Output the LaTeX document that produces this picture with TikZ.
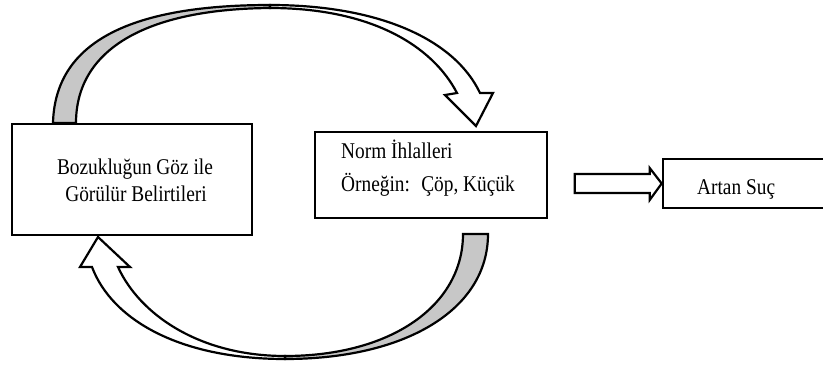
\documentclass[tikz,border=0pt]{standalone}
\usepackage{fontspec}
\setmainfont{Liberation Serif}[FakeStretch=0.86]
\usetikzlibrary{calc}
\begin{document}
\begin{tikzpicture}[x=1pt,y=-1pt,
  box/.style={draw,line width=2.6pt,fill=white,inner sep=0pt},
  band/.style={draw,line width=2.2pt,line join=miter},
  backside/.style={band,fill=black!22},
  frontside/.style={band,fill=white},
  lbl/.style={font=\fontsize{22.5}{27}\selectfont,inner sep=0pt}]
\useasboundingbox (0,0) rectangle (823,370);
% curved arrow: top (from box 1 to box 2)
\coordinate (tS1) at (53,123);
\coordinate (tS2) at (76,123);
\coordinate (tA1) at (270,5);
\coordinate (tA2) at (270,8);
\draw[backside] (tS1) .. controls (55,45) and (125,5) .. (tA1)
  -- (tA2) .. controls (145,9) and (76,50) .. (tS2) -- cycle;
\draw[frontside] (tA1) .. controls (380,5) and (455,40) .. (480,93)
  -- (493,93) -- (476,126) -- (445,95) -- (457,93)
  .. controls (432,45) and (370,8) .. (tA2) -- cycle;
% curved arrow: bottom (from box 2 back to box 1)
\coordinate (bS1) at (488,234);
\coordinate (bS2) at (463,234);
\coordinate (bA1) at (285,359);
\coordinate (bA2) at (285,356);
\draw[backside] (bS1) .. controls (488,310) and (405,359) .. (bA1)
  -- (bA2) .. controls (392,356) and (463,305) .. (bS2) -- cycle;
\draw[frontside] (bA1) .. controls (180,359) and (112,320) .. (92,267)
  -- (80,267) -- (98,237) -- (130,267) -- (118,267)
  .. controls (140,315) and (200,356) .. (bA2) -- cycle;
% boxes
\node[box,minimum width=240pt,minimum height=111pt] (b1) at (132,179.5) {};
\node[box,minimum width=232pt,minimum height=86pt] (b2) at (431,175) {};
\node[box,minimum width=167pt,minimum height=49pt] (b3) at (746.5,183.5) {};
% texts
\node[lbl,anchor=base] (t1a) at (135,174) {Bozukluğun Göz ile};
\node[lbl,anchor=base] (t1b) at (136,201) {Görülür Belirtileri};
\node[lbl,anchor=base west] (t2a) at (341,158) {Norm İhlalleri};
\node[lbl,anchor=base west] (t2b) at (341,191) {Örneğin:~ Çöp, Küçük};
\node[lbl,anchor=base west] (t3) at (697,194) {Artan Suç};
% straight arrow into box 3
\draw[frontside] ($(b3.west)+(-87,-9.5)$) -- ($(b3.west)+(-12,-9.5)$)
  -- ($(b3.west)+(-12,-15.5)$) -- (b3.west) -- ($(b3.west)+(-12,16.5)$)
  -- ($(b3.west)+(-12,9.5)$) -- ($(b3.west)+(-87,9.5)$) -- cycle;
\end{tikzpicture}
\end{document}
